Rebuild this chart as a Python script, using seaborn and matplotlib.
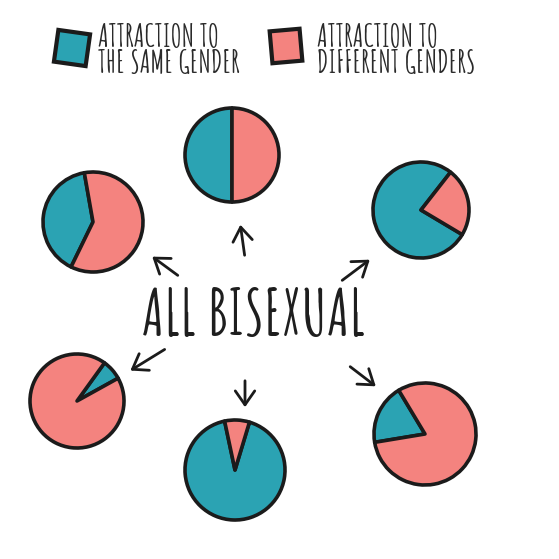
import matplotlib.pyplot as plt
import seaborn as sns
from matplotlib import font_manager as fm
from matplotlib.patches import Rectangle, FancyArrowPatch

sns.set_theme(style="white")
installed = {f.name for f in fm.fontManager.ttflist}
hand = next(f for f in ['Amatic SC', 'Patrick Hand SC', 'Oswald', 'Liberation Sans Narrow', 'DejaVu Sans']
            if f in installed)
plt.rcParams['font.family'] = [hand, 'DejaVu Sans']

# data
legend_labels = ["ATTRACTION TO\nTHE SAME GENDER", "ATTRACTION TO\nDIFFERENT GENDERS"]
same_gender = [50, 40, 77, 7, 92, 19]
different_genders = [50, 60, 23, 93, 8, 81]
title = "ALL BISEXUAL"

palette = ["#2ba3b3", "#f4837f"]
ink = "#1b1b1b"

# layout, in pixels with y going up
pie_centers = [(232, 404), (93, 337), (421, 349), (77, 158), (235, 89), (425, 125)]
pie_radii = [47, 50, 48, 47, 50, 51]
start_angles = [90, 100, 52, 29, 102, 121]
arrows = [((245, 301), (240, 337)), ((180, 282), (150, 304)), ((340, 277), (372, 301)),
          ((167, 211), (128, 187)), ((348, 194), (378, 171)), ((245, 181), (245, 149))]

fig = plt.figure(figsize=(5.59, 5.59), dpi=100)
ax = fig.add_axes([0, 0, 1, 1])

for i in range(len(same_gender)):
    ax.pie([same_gender[i], different_genders[i]], colors=palette,
           center=pie_centers[i], radius=pie_radii[i], startangle=start_angles[i],
           wedgeprops=dict(edgecolor=ink, linewidth=2.6, joinstyle='round'))

for tail, head in arrows:
    ax.add_patch(FancyArrowPatch(tail, head, arrowstyle="->,head_length=0.5,head_width=0.35",
                                 mutation_scale=20, color=ink, lw=2.0, capstyle='round'))

# legend squares
ax.add_patch(Rectangle((56, 495), 32, 32, angle=-8, rotation_point='center',
                       facecolor=palette[0], edgecolor=ink, lw=3))
ax.add_patch(Rectangle((271, 497), 30, 32, angle=5, rotation_point='center',
                       facecolor=palette[1], edgecolor=ink, lw=3))
ax.text(98, 536, legend_labels[0], ha='left', va='top', fontsize=22, color='#2a2a2a',
        linespacing=1.05, fontweight='bold')
ax.text(317, 536, legend_labels[1], ha='left', va='top', fontsize=22, color='#2a2a2a',
        linespacing=1.05, fontweight='bold')

ax.text(254, 247, title, ha='center', va='center', fontsize=46, color='#1e1e1e',
        fontweight='bold')

ax.set_xlim(0, 559)
ax.set_ylim(0, 559)
ax.set_aspect('equal')
ax.axis('off')

fig.savefig("out.png", dpi=100, facecolor='white')
